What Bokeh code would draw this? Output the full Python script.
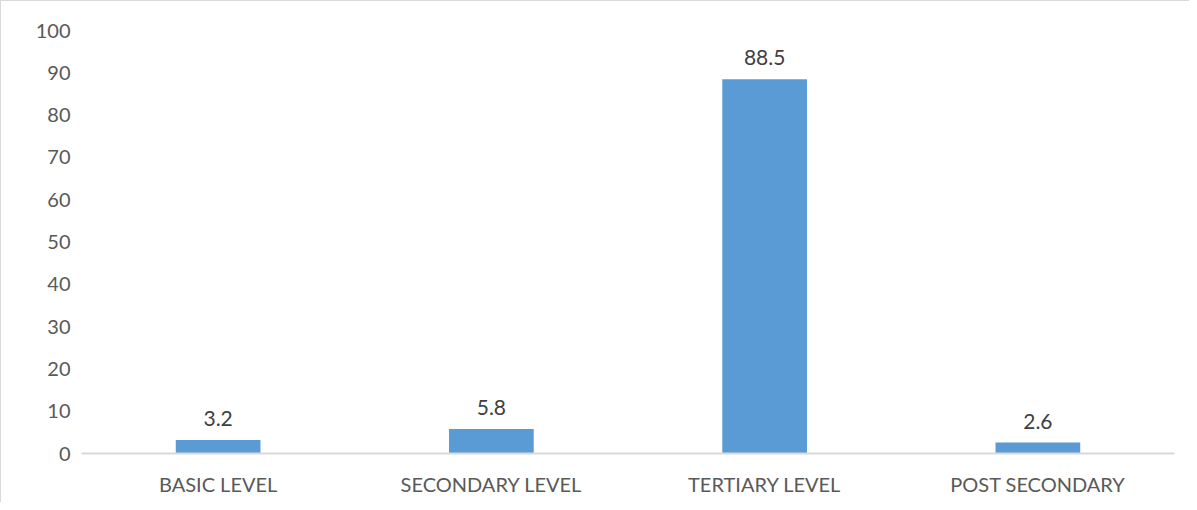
from bokeh.plotting import figure
from bokeh.models import ColumnDataSource, LabelSet, FixedTicker, Range1d
from bokeh.core.properties import value
from bokeh.embed import file_html
from bokeh.resources import INLINE

categories = ["BASIC LEVEL", "SECONDARY LEVEL", "TERTIARY LEVEL", "POST SECONDARY"]
values = [3.2, 5.8, 88.5, 2.6]
labels = ["3.2", "5.8", "88.5", "2.6"]
y_ticks = [0, 10, 20, 30, 40, 50, 60, 70, 80, 90, 100]

src = ColumnDataSource(data=dict(cat=categories, val=values, lab=labels))

p = figure(x_range=categories, width=1189, height=502, output_backend="svg",
           toolbar_location=None, min_border_left=80, min_border_right=16,
           min_border_top=29, min_border_bottom=50)
p.y_range = Range1d(0, 100)
p.x_range.range_padding = 0

p.vbar(x="cat", top="val", width=0.31, source=src, color="#5b9bd5", line_color=None)

p.add_layout(LabelSet(x="cat", y="val", text="lab", source=src, y_offset=14,
                      text_align="center", text_baseline="bottom",
                      text_font=value("Lato"), text_font_size="21px", text_color="#404040"))

p.xgrid.visible = False
p.ygrid.visible = False
p.outline_line_color = None

p.yaxis.ticker = FixedTicker(ticks=y_ticks)
p.yaxis.axis_line_color = None
p.yaxis.major_tick_line_color = None
p.yaxis.minor_tick_line_color = None
p.yaxis.major_label_text_font = "Lato"
p.yaxis.major_label_text_font_size = "20px"
p.yaxis.major_label_text_color = "#595959"
p.yaxis.major_label_standoff = 5

p.xaxis.axis_line_color = "#d9d9d9"
p.xaxis.axis_line_width = 2
p.xaxis.major_tick_line_color = None
p.xaxis.minor_tick_line_color = None
p.xaxis.major_label_text_font = "Lato"
p.xaxis.major_label_text_font_size = "20px"
p.xaxis.major_label_text_color = "#595959"
p.xaxis.major_label_standoff = 12

p.styles = {"border-left": "1px solid #d9d9d9", "border-top": "1px solid #d9d9d9"}

open("out.html", "w").write(file_html(p, INLINE))
